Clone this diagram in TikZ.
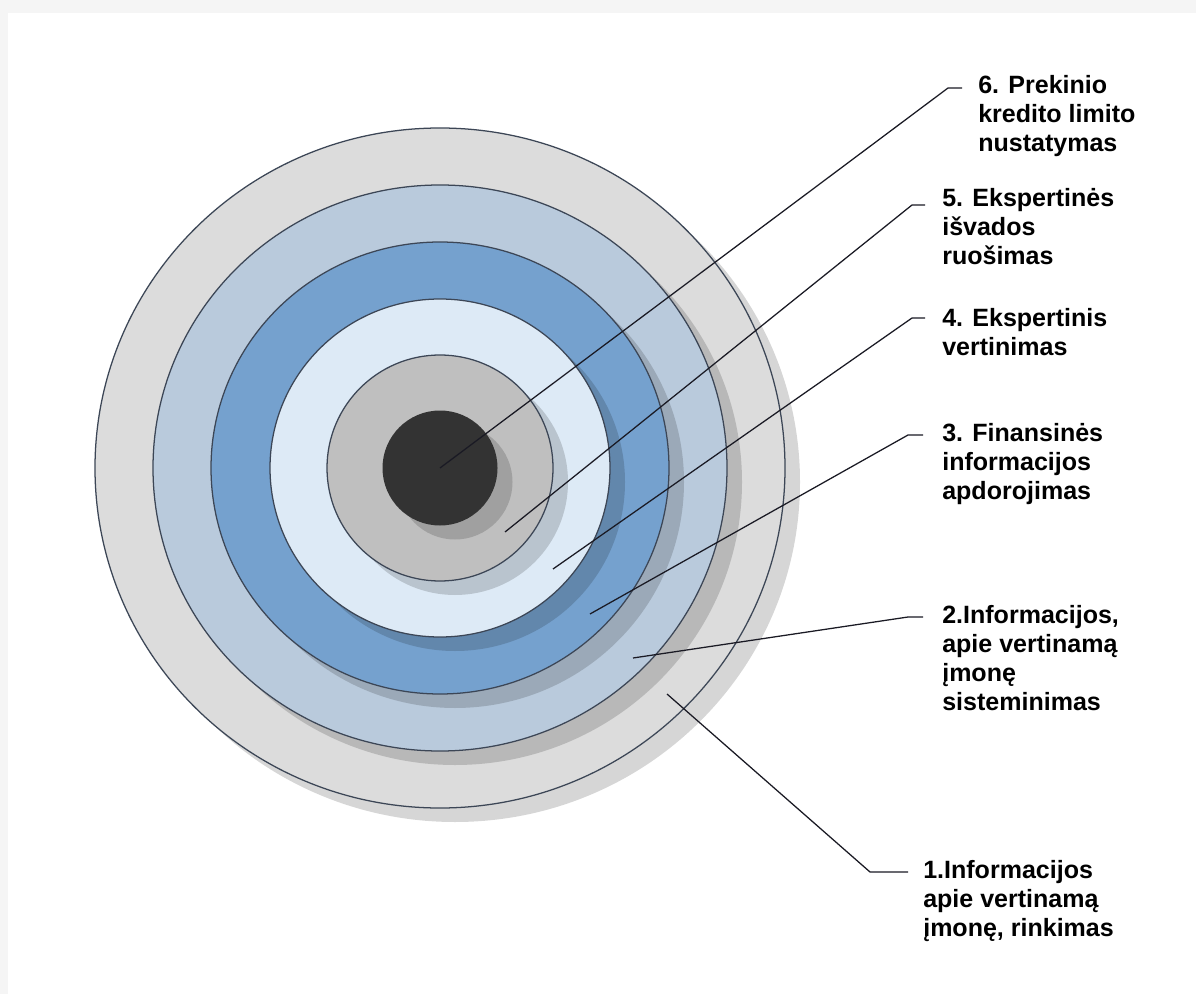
\documentclass[tikz,border=0pt]{standalone}
\usepackage{fontspec}
\setmainfont{Liberation Sans}
\definecolor{ringA}{HTML}{DCDCDC}
\definecolor{ringB}{HTML}{B9CADC}
\definecolor{ringC}{HTML}{75A1CE}
\definecolor{ringD}{HTML}{DDEAF6}
\definecolor{ringE}{HTML}{BFBFBF}
\definecolor{ringF}{HTML}{333333}
\definecolor{ringline}{HTML}{3C4656}
\definecolor{leaderline}{HTML}{1A1A24}
\begin{document}
\begin{tikzpicture}[x=.25mm,y=-.25mm,
	ring/.style={draw=ringline,line width=.9pt},
	shadowfill/.style={fill=black,fill opacity=.16},
	leader/.style={draw=leaderline,line width=.9pt},
	lbl/.style={anchor=north west,inner sep=0pt,align=left,font=\fontsize{17.8pt}{20.6pt}\selectfont\bfseries}]
	\useasboundingbox(0,0)rectangle(1196,994);
	\fill[gray!8](0,0)rectangle(1196,994);
	\fill[white](8,13)rectangle(1196,994);
	% rings, outside in, each with its shadow
	\fill[shadowfill](455,482)ellipse[x radius=345,y radius=340];
	\draw[ring,fill=ringA](440,468)ellipse[x radius=345,y radius=340];
	\fill[shadowfill](455,482)ellipse[x radius=287,y radius=283];
	\draw[ring,fill=ringB](440,468)ellipse[x radius=287,y radius=283];
	\fill[shadowfill](455,482)ellipse[x radius=229,y radius=226];
	\draw[ring,fill=ringC](440,468)ellipse[x radius=229,y radius=226];
	\fill[shadowfill](455,482)ellipse[x radius=170,y radius=169];
	\draw[ring,fill=ringD](440,468)ellipse[x radius=170,y radius=169];
	\fill[shadowfill](455,482)circle(113);
	\draw[ring,fill=ringE](440,468)circle(113);
	\fill[shadowfill](455,482)circle(57.5);
	\fill[ringF](440,468)circle(57.5);
	% labels
	\node[lbl](l6)at(978,75){6. Prekinio\\kredito limito\\nustatymas};
	\node[lbl](l5)at(942,188){5. Ekspertinės\\išvados\\ruošimas};
	\node[lbl](l4)at(942,308){4. Ekspertinis\\vertinimas};
	\node[lbl](l3)at(942,423){3. Finansinės\\informacijos\\apdorojimas};
	\node[lbl](l2)at(942,605){2.Informacijos,\\apie vertinamą\\įmonę\\sisteminimas};
	\node[lbl](l1)at(923,860){1.Informacijos\\apie vertinamą\\įmonę, rinkimas};
	% leaders
	\coordinate(p6)at(440,468);\coordinate(k6)at(948,88);\coordinate(e6)at(962,88);
	\coordinate(p5)at(505,532);\coordinate(k5)at(912,205);\coordinate(e5)at(925,205);
	\coordinate(p4)at(553,569);\coordinate(k4)at(912,318);\coordinate(e4)at(925,318);
	\coordinate(p3)at(590,614);\coordinate(k3)at(908,435);\coordinate(e3)at(923,435);
	\coordinate(p2)at(633,658);\coordinate(k2)at(908,617);\coordinate(e2)at(923,617);
	\coordinate(p1)at(667,694);\coordinate(k1)at(870,872);\coordinate(e1)at(908,872);
	\draw[leader](p6)--(k6)--(e6);
	\draw[leader](p5)--(k5)--(e5);
	\draw[leader](p4)--(k4)--(e4);
	\draw[leader](p3)--(k3)--(e3);
	\draw[leader](p2)--(k2)--(e2);
	\draw[leader](p1)--(k1)--(e1);
\end{tikzpicture}
\end{document}
